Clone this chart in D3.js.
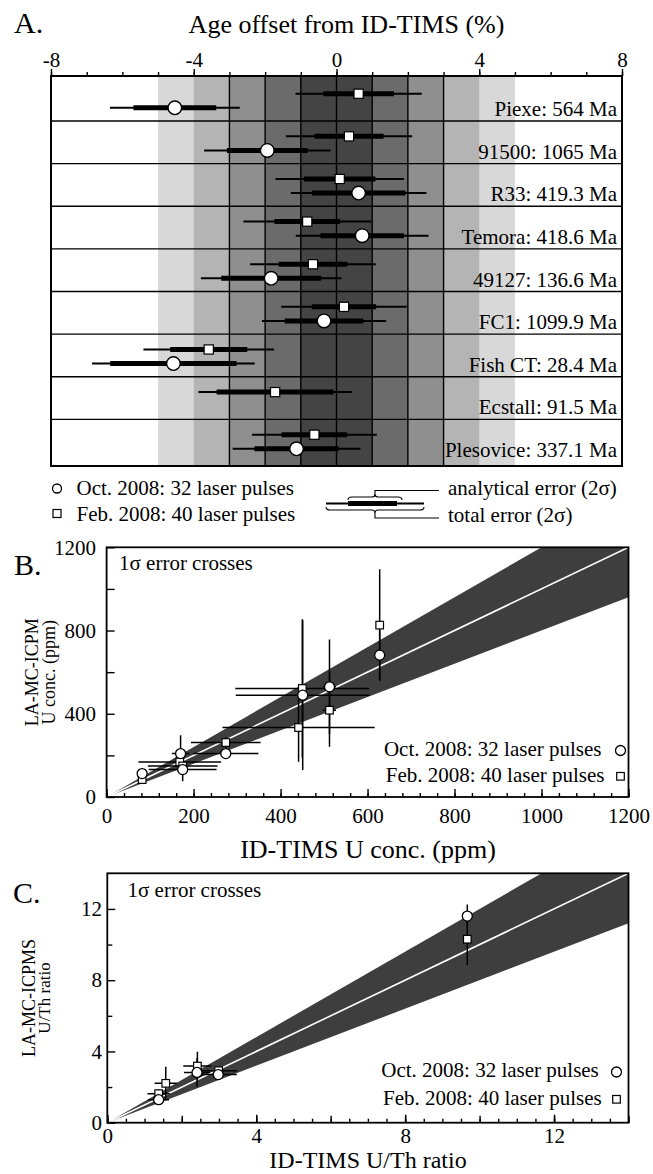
<!DOCTYPE html>
<html><head><meta charset="utf-8">
<script src="https://cdn.jsdelivr.net/npm/d3@7"></script>
<style>
body{margin:0;background:#fff}
svg{display:block}
</style>
</head><body>
<svg id="c" width="653" height="1174"></svg>
<script>
// ---------- Panel A data ----------
const samples = ["Piexe: 564 Ma","91500: 1065 Ma","R33: 419.3 Ma","Temora: 418.6 Ma","49127: 136.6 Ma","FC1: 1099.9 Ma","Fish CT: 28.4 Ma","Ecstall: 91.5 Ma","Plesovice: 337.1 Ma"];
const axisATicks = [-8, -4, 0, 4, 8];
// Feb. 2008 (squares): offset %, analytical 2σ, total 2σ
const febOffset     = [0.62, 0.35, 0.09, -0.82, -0.66, 0.21, -3.58, -1.72, -0.62];
const febAnalytical = [0.99, 0.97, 1.00, 0.92, 0.96, 0.90, 1.08, 1.64, 0.92];
const febTotal      = [1.77, 1.77, 1.80, 1.79, 1.76, 1.76, 1.83, 2.15, 1.75];
// Oct. 2008 (circles)
const octOffset     = [-4.53, -1.94, 0.62, 0.72, -1.83, -0.35, -4.57, null, -1.12];
const octAnalytical = [1.16, 1.13, 1.31, 1.17, 1.40, 1.10, 1.77, null, 1.18];
const octTotal      = [1.82, 1.77, 1.90, 1.86, 1.97, 1.74, 2.28, null, 1.79];

// ---------- Panel B data (U conc., ppm) ----------
const bOctX    = [81.7, 170.1, 174.9, 274.1, 450.9, 512.5, 627.9];
const bOctY    = [112.6, 208.8, 131.8, 208.8, 489.3, 529.3, 681.8];
const bOctXErr = [8, 20, 78, 75, 154, 15, 5];
const bOctYErr = [10, 88, 56, 25, 360, 228, 120];
const bFebX    = [81.7, 168.2, 174.9, 274.1, 441.4, 450.0, 512.5, 627.9];
const bFebY    = [83.7, 168.4, 149.2, 261.7, 333.9, 521.6, 417.2, 826.0];
const bFebXErr = [8, 95, 80, 80, 175, 154, 15, 5];
const bFebYErr = [8, 15, 20, 25, 165, 333, 176, 268];

// ---------- Panel C data (U/Th ratio) ----------
const cOctX    = [1.38, 2.41, 2.98, 9.67];
const cOctY    = [1.29, 2.82, 2.70, 11.60];
const cOctXErr = [0.28, 0.35, 0.50, 0.05];
const cOctYErr = [0.20, 0.80, 0.15, 0.65];
const cFebX    = [1.38, 1.57, 2.42, 2.99, 9.67];
const cFebY    = [1.63, 2.21, 3.18, 2.92, 10.30];
const cFebXErr = [0.30, 0.30, 0.38, 0.50, 0.05];
const cFebYErr = [0.25, 0.93, 0.80, 0.15, 1.45];

// reference band (±20%) around 1:1
const bandLowSlope = 0.8, bandHighSlope = 1.2;

const legendOct = "Oct. 2008: 32 laser pulses";
const legendFeb = "Feb. 2008: 40 laser pulses";

const FONT = '"Liberation Serif", "Times New Roman", Tinos, serif';
const svg = d3.select('#c');
svg.style('font-family', FONT);

// ================= Panel A =================
const xA = d3.scaleLinear([-8, 8], [51, 622]);
const yA = d3.scaleLinear([0, samples.length], [78.4, 462]);
const aTop = 76, aBottom = 466;
const gA = svg.append('g');

const bandHalf = [5, 4, 3, 2, 1];
const bandColors = ['#d8d8d8', '#b4b4b4', '#8f8f8f', '#6b6b6b', '#444444'];
gA.selectAll('rect.band').data(bandHalf).join('rect')
  .attr('x', d => xA(-d)).attr('width', d => xA(d) - xA(-d))
  .attr('y', aTop).attr('height', aBottom - aTop)
  .attr('fill', (d, i) => bandColors[i]);

gA.selectAll('line.v').data(d3.range(-3, 4)).join('line')
  .attr('x1', d => xA(d)).attr('x2', d => xA(d))
  .attr('y1', aTop).attr('y2', aBottom)
  .attr('stroke', '#000').attr('stroke-width', 1.4);

gA.selectAll('line.h').data(d3.range(1, samples.length)).join('line')
  .attr('x1', xA(-8)).attr('x2', xA(8))
  .attr('y1', d => yA(d)).attr('y2', d => yA(d))
  .attr('stroke', '#000').attr('stroke-width', 1.4);

gA.selectAll('text.lab').data(samples).join('text')
  .attr('x', 617).attr('y', (d, i) => yA(i + 0.885))
  .attr('text-anchor', 'end').attr('font-size', 21).text(d => d);

function drawA(offset, ana, tot, frac, shape) {
  const data = samples.map((s, i) => ({i, v: offset[i], a: ana[i], t: tot[i]})).filter(d => d.v != null);
  const g = gA.append('g');
  g.selectAll('line.t').data(data).join('line')
    .attr('x1', d => xA(d.v - d.t)).attr('x2', d => xA(d.v + d.t))
    .attr('y1', d => yA(d.i + frac)).attr('y2', d => yA(d.i + frac))
    .attr('stroke', '#000').attr('stroke-width', 2);
  g.selectAll('line.a').data(data).join('line')
    .attr('x1', d => xA(d.v - d.a)).attr('x2', d => xA(d.v + d.a))
    .attr('y1', d => yA(d.i + frac)).attr('y2', d => yA(d.i + frac))
    .attr('stroke', '#000').attr('stroke-width', 5);
  if (shape === 'circle') {
    g.selectAll('circle').data(data).join('circle')
      .attr('cx', d => xA(d.v)).attr('cy', d => yA(d.i + frac)).attr('r', 6.8)
      .attr('fill', '#fff').attr('stroke', '#000').attr('stroke-width', 1.4);
  } else {
    g.selectAll('rect').data(data).join('rect')
      .attr('x', d => xA(d.v) - 4.6).attr('y', d => yA(d.i + frac) - 4.6)
      .attr('width', 9.2).attr('height', 9.2)
      .attr('fill', '#fff').attr('stroke', '#000').attr('stroke-width', 1.2);
  }
}
drawA(febOffset, febAnalytical, febTotal, 0.36, 'square');
drawA(octOffset, octAnalytical, octTotal, 0.69, 'circle');

gA.append('rect').attr('x', xA(-8)).attr('y', aTop)
  .attr('width', xA(8) - xA(-8)).attr('height', aBottom - aTop)
  .attr('fill', 'none').attr('stroke', '#000').attr('stroke-width', 2);

function styleAxis(g) {
  g.attr('font-family', null).attr('font-size', null);
  g.select('.domain').remove();
  g.selectAll('line').attr('stroke', '#000').attr('stroke-width', 1.4);
  g.selectAll('text').attr('font-size', 21).attr('fill', '#000');
}
gA.append('g').attr('transform', `translate(0,${aTop})`)
  .call(d3.axisTop(xA).tickValues(d3.range(-8, 9)).tickSize(4).tickFormat(''))
  .call(styleAxis);
gA.append('g').attr('transform', `translate(0,${aTop})`)
  .call(d3.axisTop(xA).tickValues(axisATicks).tickSize(7).tickPadding(2).tickFormat(d => String(d)))
  .call(styleAxis);

svg.append('text').attr('x', 14).attr('y', 33).attr('font-size', 30).text('A.');
svg.append('text').attr('x', 346.5).attr('y', 33).attr('font-size', 26)
  .attr('text-anchor', 'middle').text('Age offset from ID-TIMS (%)');

// legend A
const lg = svg.append('g');
lg.append('circle').attr('cx', 57).attr('cy', 488.5).attr('r', 4.5)
  .attr('fill', '#fff').attr('stroke', '#000').attr('stroke-width', 1.3);
lg.append('rect').attr('x', 53).attr('y', 509.5).attr('width', 8).attr('height', 8)
  .attr('fill', '#fff').attr('stroke', '#000').attr('stroke-width', 1.2);
lg.append('text').attr('x', 76.5).attr('y', 494.5).attr('font-size', 21).text(legendOct);
lg.append('text').attr('x', 76.5).attr('y', 521).attr('font-size', 21).text(legendFeb);
lg.append('line').attr('x1', 326).attr('x2', 424).attr('y1', 503.5).attr('y2', 503.5)
  .attr('stroke', '#000').attr('stroke-width', 2);
lg.append('line').attr('x1', 348).attr('x2', 397).attr('y1', 503.5).attr('y2', 503.5)
  .attr('stroke', '#000').attr('stroke-width', 5);
function brace(x1, x2, y, dir, tipY) {
  const m = (x1 + x2) / 2;
  return `M${x1},${y - dir * 3} Q${x1},${y} ${x1 + 4},${y} L${m - 3},${y} Q${m},${y} ${m},${y + dir * 3} L${m},${tipY} L439,${tipY}` +
         ` M${m},${y + dir * 3} Q${m},${y} ${m + 3},${y} L${x2 - 4},${y} Q${x2},${y} ${x2},${y - dir * 3}`;
}
lg.append('path').attr('d', brace(348, 402, 497, -1, 490.5))
  .attr('fill', 'none').attr('stroke', '#000').attr('stroke-width', 1.1);
lg.append('path').attr('d', brace(326, 424, 510, 1, 518))
  .attr('fill', 'none').attr('stroke', '#000').attr('stroke-width', 1.1);
lg.append('text').attr('x', 448).attr('y', 494.5).attr('font-size', 21).text('analytical error (2σ)');
lg.append('text').attr('x', 448).attr('y', 521.5).attr('font-size', 21).text('total error (2σ)');

// ================= Panels B & C =================
function scatterPanel(cfg) {
  const {x, y, id} = cfg;
  const [x0, x1] = x.range(), [y0, y1] = y.range();
  const g = svg.append('g');
  g.append('clipPath').attr('id', id).append('rect')
    .attr('x', x0).attr('y', y1).attr('width', x1 - x0).attr('height', y0 - y1);
  const xm = x.domain()[1];
  const band = [[0, 0], [xm, bandHighSlope * xm], [xm, bandLowSlope * xm]];
  const gc = g.append('g').attr('clip-path', `url(#${id})`);
  gc.append('path').attr('d', d3.line().x(d => x(d[0])).y(d => y(d[1]))(band) + 'Z')
    .attr('fill', '#3e3e3e');
  gc.append('line').attr('x1', x(0)).attr('y1', y(0)).attr('x2', x(xm)).attr('y2', y(xm))
    .attr('stroke', '#fff').attr('stroke-width', 1.6);

  function series(X, Y, XE, YE) {
    const data = X.map((v, i) => ({x: v, y: Y[i], xe: XE[i], ye: YE[i]}));
    const s = gc.append('g');
    s.selectAll('line.xe').data(data).join('line')
      .attr('x1', d => x(d.x - d.xe)).attr('x2', d => x(d.x + d.xe))
      .attr('y1', d => y(d.y)).attr('y2', d => y(d.y))
      .attr('stroke', '#000').attr('stroke-width', 1.5);
    s.selectAll('line.ye').data(data).join('line')
      .attr('x1', d => x(d.x)).attr('x2', d => x(d.x))
      .attr('y1', d => y(d.y - d.ye)).attr('y2', d => y(d.y + d.ye))
      .attr('stroke', '#000').attr('stroke-width', 1.5);
    return data;
  }
  const febD = series(cfg.febX, cfg.febY, cfg.febXE, cfg.febYE);
  const octD = series(cfg.octX, cfg.octY, cfg.octXE, cfg.octYE);
  gc.append('g').selectAll('rect').data(febD).join('rect')
    .attr('x', d => x(d.x) - 3.8).attr('y', d => y(d.y) - 3.8).attr('width', 7.6).attr('height', 7.6)
    .attr('fill', '#fff').attr('stroke', '#000').attr('stroke-width', 1.2);
  gc.append('g').selectAll('circle').data(octD).join('circle')
    .attr('cx', d => x(d.x)).attr('cy', d => y(d.y)).attr('r', 5)
    .attr('fill', '#fff').attr('stroke', '#000').attr('stroke-width', 1.3);

  g.append('g').attr('transform', `translate(0,${y0})`)
    .call(d3.axisBottom(x).tickValues(cfg.xMinor).tickSize(-4).tickFormat('')).call(styleAxis);
  if (cfg.xMid) g.append('g').attr('transform', `translate(0,${y0})`)
    .call(d3.axisBottom(x).tickValues(cfg.xMid).tickSize(-7).tickFormat('')).call(styleAxis);
  g.append('g').attr('transform', `translate(0,${y0})`)
    .call(d3.axisBottom(x).tickValues(cfg.xMajor).tickSize(-8).tickPadding(cfg.xPad).tickFormat(d => String(d))).call(styleAxis);
  g.append('g').attr('transform', `translate(${x0},0)`)
    .call(d3.axisLeft(y).tickValues(cfg.yMinor).tickSize(-cfg.yMinorLen).tickFormat('')).call(styleAxis);
  g.append('g').attr('transform', `translate(${x0},0)`)
    .call(d3.axisLeft(y).tickValues(cfg.yMajor).tickSize(-8).tickPadding(cfg.yPad).tickFormat(d => String(d))).call(styleAxis);

  g.append('rect').attr('x', x0).attr('y', y1).attr('width', x1 - x0).attr('height', y0 - y1)
    .attr('fill', 'none').attr('stroke', '#000').attr('stroke-width', 1.8);

  g.append('text').attr('x', cfg.noteX).attr('y', cfg.noteY).attr('font-size', 21).text('1σ error crosses');
  g.append('text').attr('x', cfg.letterX).attr('y', cfg.letterY).attr('font-size', 30).text(cfg.letter);
  g.append('text').attr('x', 368).attr('y', cfg.xLabY).attr('font-size', cfg.xLabSize)
    .attr('text-anchor', 'middle').text(cfg.xLabel);
  const cy = (y0 + y1) / 2;
  g.append('text').attr('transform', `translate(${cfg.yLab1X},${cy}) rotate(-90)`)
    .attr('text-anchor', 'middle').attr('font-size', 18).text(cfg.yLabel1);
  g.append('text').attr('transform', `translate(${cfg.yLab2X},${cy}) rotate(-90)`)
    .attr('text-anchor', 'middle').attr('font-size', cfg.yLab2Size).text(cfg.yLabel2);

  g.append('text').attr('x', cfg.legX).attr('y', cfg.legY1).attr('text-anchor', 'end').attr('font-size', 21).text(legendOct);
  g.append('text').attr('x', cfg.legX + 3).attr('y', cfg.legY2).attr('text-anchor', 'end').attr('font-size', 21).text(legendFeb);
  g.append('circle').attr('cx', cfg.legSymX).attr('cy', cfg.legY1 - 5).attr('r', 5)
    .attr('fill', '#fff').attr('stroke', '#000').attr('stroke-width', 1.3);
  g.append('rect').attr('x', cfg.legSymX - 3.8).attr('y', cfg.legY2 - 9.5).attr('width', 7.6).attr('height', 7.6)
    .attr('fill', '#fff').attr('stroke', '#000').attr('stroke-width', 1.2);
}

scatterPanel({
  id: 'clipB',
  x: d3.scaleLinear([0, 1200], [106.6, 628.5]),
  y: d3.scaleLinear([0, 1200], [797, 547.3]),
  octX: bOctX, octY: bOctY, octXE: bOctXErr, octYE: bOctYErr,
  febX: bFebX, febY: bFebY, febXE: bFebXErr, febYE: bFebYErr,
  xMinor: d3.range(0, 1201, 40), xMid: null, xMajor: d3.range(0, 1201, 200), xPad: 11,
  yMinor: [200, 600, 1000], yMinorLen: 8, yMajor: [0, 400, 800, 1200], yPad: 10.5,
  noteX: 119, noteY: 569.5, letter: 'B.', letterX: 14, letterY: 575,
  xLabel: 'ID-TIMS U conc. (ppm)', xLabY: 858, xLabSize: 26,
  yLabel1: 'LA-MC-ICPM', yLabel2: 'U conc. (ppm)', yLab1X: 37.5, yLab2X: 54.5, yLab2Size: 18,
  legX: 601.5, legY1: 755.5, legY2: 782, legSymX: 620.5
});

scatterPanel({
  id: 'clipC',
  x: d3.scaleLinear([0, 14], [107.3, 628.5]),
  y: d3.scaleLinear([0, 14], [1122.7, 873.3]),
  octX: cOctX, octY: cOctY, octXE: cOctXErr, octYE: cOctYErr,
  febX: cFebX, febY: cFebY, febXE: cFebXErr, febYE: cFebYErr,
  xMinor: d3.range(0, 14.01, 0.5), xMid: d3.range(0, 14.01, 2), xMajor: [0, 4, 8, 12], xPad: 5,
  yMinor: [2, 6, 10], yMinorLen: 5, yMajor: [0, 4, 8, 12], yPad: 5.3,
  noteX: 127.5, noteY: 897, letter: 'C.', letterX: 13, letterY: 903,
  xLabel: 'ID-TIMS U/Th ratio', xLabY: 1168.3, xLabSize: 24,
  yLabel1: 'LA-MC-ICPMS', yLabel2: 'U/Th ratio', yLab1X: 34.5, yLab2X: 50, yLab2Size: 17,
  legX: 598.8, legY1: 1077, legY2: 1105, legSymX: 616.5
});
</script>
</body></html>
